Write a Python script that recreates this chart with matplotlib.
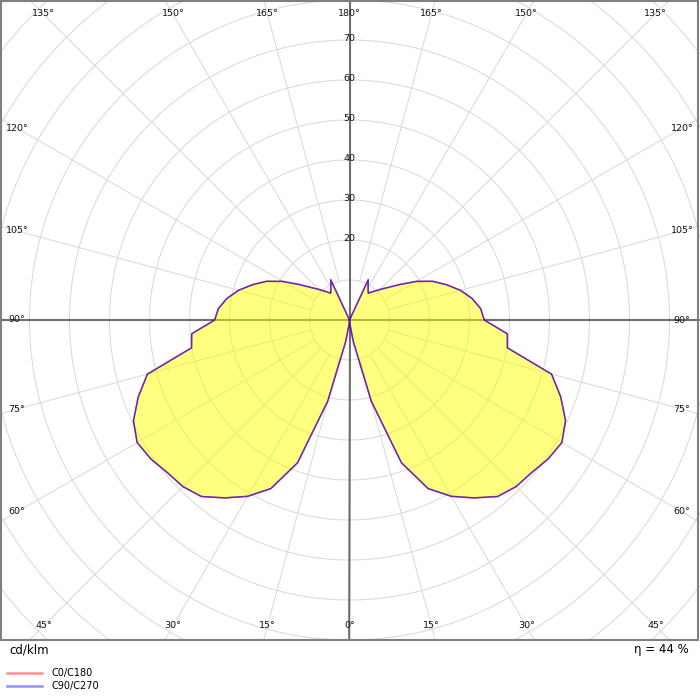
import numpy as np
import matplotlib
matplotlib.use("Agg")
import matplotlib.pyplot as plt
from matplotlib.patches import Rectangle
from matplotlib.lines import Line2D

# ---------------- data (cd/klm) ----------------
gamma_deg = list(range(0, 181, 5))
intensity_c0_c180 = [0, 1, 5.5, 21, 38, 46.5, 50.9, 54.3, 57.6, 58.9, 59.4, 60.6,
                     61.3, 59.6, 56.2, 52.3, 40.1, 39.6, 33.7, 32.9, 31.1, 28.7,
                     25.8, 22.9, 19.3, 15.5, 12.7, 10.8, 9.3, 8.2, 9.3, 11.1,
                     0, 0, 0, 0, 0]
intensity_c90_c270 = [0, 1, 5.5, 21, 38, 46.5, 50.9, 54.3, 57.6, 58.9, 59.4, 60.6,
                      61.3, 59.6, 56.2, 52.3, 40.1, 39.6, 33.7, 32.9, 31.1, 28.7,
                      25.8, 22.9, 19.3, 15.5, 12.7, 10.8, 9.3, 8.2, 9.3, 11.1,
                      0, 0, 0, 0, 0]
series_labels = ["C0/C180", "C90/C270"]
radial_ticks = [20, 30, 40, 50, 60, 70]
angle_ticks = list(range(0, 181, 15))
unit_label = "cd/klm"
efficiency_label = "η = 44 %"

# ---------------- layout ----------------
W = H = 700
fig = plt.figure(figsize=(7, 7), dpi=100, facecolor="white")
cx, cy = 349.5, 320.0          # centre of diagram in px (from top-left)
px_per_unit = 4.0
rmax = 120
R = rmax * px_per_unit
ax = fig.add_axes([(cx - R) / W, (H - cy - R) / H, 2 * R / W, 2 * R / H],
                  projection="polar")
ax.set_theta_zero_location("S")
ax.set_theta_direction(1)
ax.set_ylim(0, rmax)
ax.grid(False)
ax.set_xticks([])
ax.set_yticks([])
ax.spines["polar"].set_visible(False)
ax.patch.set_alpha(0)

grid_col = "#dadada"
th = np.linspace(0, 2 * np.pi, 1441)
for rr in range(10, rmax, 10):
    ax.plot(th, np.full_like(th, rr), color=grid_col, lw=0.75, zorder=1)
for a in range(0, 360, 15):
    t = np.deg2rad(a)
    ax.plot([t, t], [10, rmax], color=grid_col, lw=0.75, zorder=1)

axis_col = "#6e6e6e"
for a in (0, 90, 180, 270):
    t = np.deg2rad(a)
    ax.plot([t, t], [0, rmax], color=axis_col, lw=1.5, zorder=2)

# ---------------- curves ----------------
g = np.deg2rad(np.array(gamma_deg, dtype=float))
theta = np.concatenate([g, -g[::-1]])
colors = ["#ff0000", "#0000ff"]
for vals in [intensity_c0_c180, intensity_c90_c270]:
    v = np.array(vals, dtype=float)
    rr = np.concatenate([v, v[::-1]])
    ax.fill(theta, rr, color="#ffff00", alpha=0.293, lw=0, zorder=3)
for vals, col in zip([intensity_c0_c180, intensity_c90_c270], colors):
    v = np.array(vals, dtype=float)
    rr = np.concatenate([v, v[::-1]])
    ax.plot(theta, rr, color=col, alpha=0.6, lw=1.1, zorder=4)

# ---------------- labels ----------------
fs = 6.8
row_off = 306 / px_per_unit     # distance of top/bottom label rows
col_off = 332.5 / px_per_unit   # distance of side label columns
for ang in angle_ticks:
    signs = [1] if ang in (0, 180) else [1, -1]
    a = np.deg2rad(ang)
    if ang <= 45 or ang >= 135:
        r_lab = row_off / abs(np.cos(a))
    else:
        r_lab = col_off / np.sin(a)
    for s in signs:
        ax.text(s * a, r_lab, f"{ang}°", ha="center", va="center",
                fontsize=fs, color="#111111", zorder=6)
for v in radial_ticks:
    ax.text(np.pi, v + 0.3, str(v), ha="center", va="center",
            fontsize=fs, color="#111111", zorder=6)

# mask below the frame and frame
fig.add_artist(Rectangle((0, 0), 1, 59.5 / H, transform=fig.transFigure,
                         facecolor="white", edgecolor="none", zorder=1))
fig.add_artist(Rectangle((1 / W, 60 / H), 697 / W, 639 / H, transform=fig.transFigure,
                         facecolor="none", edgecolor="#808080", lw=1.5, zorder=3))

fig.text(9 / W, 1 - 650 / H, unit_label, ha="left", va="center", fontsize=8.5, zorder=5)
fig.text(689 / W, 1 - 650 / H, efficiency_label, ha="right", va="center",
         fontsize=8.5, zorder=5)

legend_cols = ["#ff9090", "#9090ff"]
for i, (lab, col) in enumerate(zip(series_labels, legend_cols)):
    y = 1 - (673 + 13 * i) / H
    fig.add_artist(Line2D([7 / W, 42 / W], [y, y], transform=fig.transFigure,
                          color=col, lw=1.8, zorder=5))
    fig.text(51 / W, y, lab, ha="left", va="center", fontsize=7, zorder=5)

fig.savefig("out.png", dpi=100, facecolor="white")
